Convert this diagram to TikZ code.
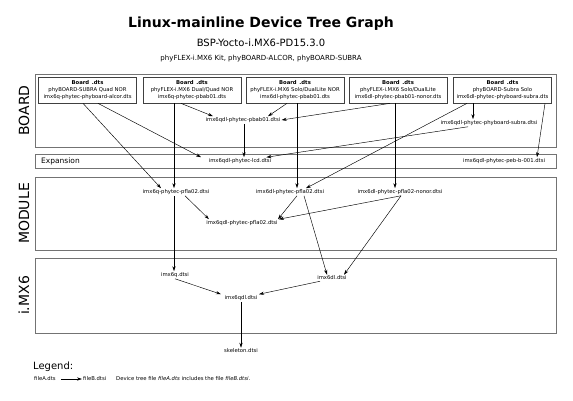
\documentclass[tikz,border=0pt]{standalone}
\usepackage{fontspec}
\setmainfont{DejaVu Sans}
\usetikzlibrary{arrows.meta}
\newcommand{\filefont}{\fontsize{5.3}{7.4}\selectfont}
\tikzset{
regionbox/.style={rectangle, draw=black!55, line width=0.7pt, fill=none, inner sep=0pt, minimum width=521pt},
regionlabel/.style={rotate=90, font=\fontsize{14}{16}\selectfont, inner sep=0pt},
boardbox/.style={rectangle, draw=black!75, line width=0.7pt, fill=none, inner sep=0pt, minimum width=98pt, minimum height=26pt, align=center, font=\filefont},
dtsifile/.style={rectangle, draw=none, inner sep=1pt, font=\filefont},
includes/.style={-{Stealth[length=5pt,width=3.2pt]}, line width=0.45pt, black},
}

\begin{document}
\begin{tikzpicture}[x=1pt,y=-1pt]
        \useasboundingbox (0,0) rectangle (573,400);
        % titles
        \node[font=\fontsize{14}{16}\selectfont\bfseries] at (261,24) (title) {Linux-mainline Device Tree Graph};
        \node[font=\fontsize{10}{12}\selectfont] at (261,43) (bsp) {BSP-Yocto-i.MX6-PD15.3.0};
        \node[font=\fontsize{7}{8}\selectfont] at (261,58.5) (kits) {phyFLEX-i.MX6 Kit, phyBOARD-ALCOR, phyBOARD-SUBRA};
        % regions
        \node[regionbox, minimum height=73pt] at (295.5,110.5) (boardreg) {};
        \node[regionbox, minimum height=14pt] at (295.5,161) (expreg) {};
        \node[regionbox, minimum height=73pt] at (295.5,213.5) (modreg) {};
        \node[regionbox, minimum height=75pt] at (295.5,295.5) (socreg) {};
        \node[regionlabel] at (24,110.5) (boardlbl) {BOARD};
        \node[regionlabel] at (24,213.5) (modlbl) {MODULE};
        \node[regionlabel] at (24,295.5) (soclbl) {i.MX6};
        \node[font=\fontsize{7.5}{9}\selectfont, anchor=west, inner sep=0pt] at (41,161) (explbl) {Expansion};
        % board files
        \node[boardbox] at (87.5,90) (b1) {\textbf{Board\enspace.dts}\\phyBOARD-SUBRA Quad NOR\\imx6q-phytec-phyboard-alcor.dts};
        \node[boardbox] at (192,90) (b2) {\textbf{Board\enspace.dts}\\phyFLEX-i.MX6 Dual/Quad NOR\\imx6q-phytec-pbab01.dts};
        \node[boardbox] at (295,90) (b3) {\textbf{Board\enspace.dts}\\phyFLEX-i.MX6 Solo/DualLite NOR\\imx6dl-phytec-pbab01.dts};
        \node[boardbox] at (398,90) (b4) {\textbf{Board\enspace.dts}\\phyFLEX-i.MX6 Solo/DualLite\\imx6dl-phytec-pbab01-nonor.dts};
        \node[boardbox] at (502.5,90) (b5) {\textbf{Board\enspace.dts}\\phyBOARD-Subra Solo\\imx6dl-phytec-phyboard-subra.dts};
        \node[dtsifile] at (243,120) (pbab) {imx6qdl-phytec-pbab01.dtsi};
        \node[dtsifile] at (489,123) (subra) {imx6qdl-phytec-phyboard-subra.dtsi};
        % expansion files
        \node[dtsifile] at (240,161) (lcd) {imx6qdl-phytec-lcd.dtsi};
        \node[dtsifile] at (504,161) (peb) {imx6qdl-phytec-peb-b-001.dtsi};
        % module files
        \node[dtsifile] at (176,192) (qpfla) {imx6q-phytec-pfla02.dtsi};
        \node[dtsifile] at (290,192) (dlpfla) {imx6dl-phytec-pfla02.dtsi};
        \node[dtsifile] at (400,192) (nonor) {imx6dl-phytec-pfla02-nonor.dtsi};
        \node[dtsifile] at (242,223) (qdlpfla) {imx6qdl-phytec-pfla02.dtsi};
        % soc files
        \node[dtsifile] at (175,275) (imxq) {imx6q.dtsi};
        \node[dtsifile] at (332,278) (imxdl) {imx6dl.dtsi};
        \node[dtsifile] at (241,298) (imxqdl) {imx6qdl.dtsi};
        \node[dtsifile] at (241,351) (skel) {skeleton.dtsi};
        % includes
        \draw[includes] ([xshift=-4.5pt]b1.south) -- ([xshift=-15pt]qpfla.north);
        \draw[includes] ([xshift=10.5pt]b1.south) -- ([xshift=-39pt]lcd.north);
        \draw[includes] ([xshift=-18pt]b2.south) -- ([xshift=-2pt]qpfla.north);
        \draw[includes] ([xshift=-11pt]b2.south) -- ([xshift=-30pt]pbab.north);
        \draw[includes] ([xshift=-8pt]b3.south) -- ([xshift=25pt]pbab.north);
        \draw[includes] ([xshift=2pt]b3.south) -- ([xshift=7pt]dlpfla.north);
        \draw[includes] ([xshift=-8pt]b4.south) -- (pbab.east);
        \draw[includes] ([xshift=-3pt]b4.south) -- ([xshift=-5pt]nonor.north);
        \draw[includes] ([xshift=-29.5pt]b5.south) -- ([xshift=-16pt]subra.north);
        \draw[includes] ([xshift=-35.5pt]b5.south) -- ([xshift=16pt]dlpfla.north);
        \draw[includes] ([xshift=42.5pt]b5.south) -- ([xshift=33pt]peb.north);
        \draw[includes] ([xshift=1pt]pbab.south) -- ([xshift=4pt]lcd.north);
        \draw[includes] ([xshift=-21pt]subra.south) -- ([xshift=-6pt]lcd.north east);
        \draw[includes] ([xshift=9pt]qpfla.south) -- ([xshift=-33pt]qdlpfla.north);
        \draw[includes] ([xshift=7pt]dlpfla.south) -- ([xshift=36pt]qdlpfla.north);
        \draw[includes] ([xshift=1pt]nonor.south) -- (qdlpfla.north east);
        \draw[includes] ([xshift=-2pt]qpfla.south) -- ([xshift=-1pt]imxq.north);
        \draw[includes] ([xshift=14pt]dlpfla.south) -- ([xshift=-5pt]imxdl.north);
        \draw[includes] ([xshift=1pt]nonor.south) -- ([xshift=12pt]imxdl.north);
        \draw[includes] (imxq.south) -- ([xshift=-20pt]imxqdl.north);
        \draw[includes] ([xshift=-12pt]imxdl.south) -- ([xshift=18pt]imxqdl.north);
        \draw[includes] (imxqdl.south) -- (skel.north);
        % legend
        \node[font=\fontsize{10}{12}\selectfont, anchor=west, inner sep=0pt] at (33,367) (legend) {Legend:};
        \node[dtsifile, anchor=west, inner sep=0pt] at (34,379) (filea) {fileA.dts};
        \node[dtsifile, anchor=west, inner sep=0pt] at (83,379) (fileb) {fileB.dtsi};
        \draw[includes] ([xshift=5pt]filea.east) -- ([xshift=-1pt]fileb.west);
        \node[dtsifile, anchor=west, inner sep=0pt] at (116,379) (legtext) {Device tree file \textit{fileA.dts} includes the file \textit{fileB.dtsi}.};
\end{tikzpicture}
\end{document}
